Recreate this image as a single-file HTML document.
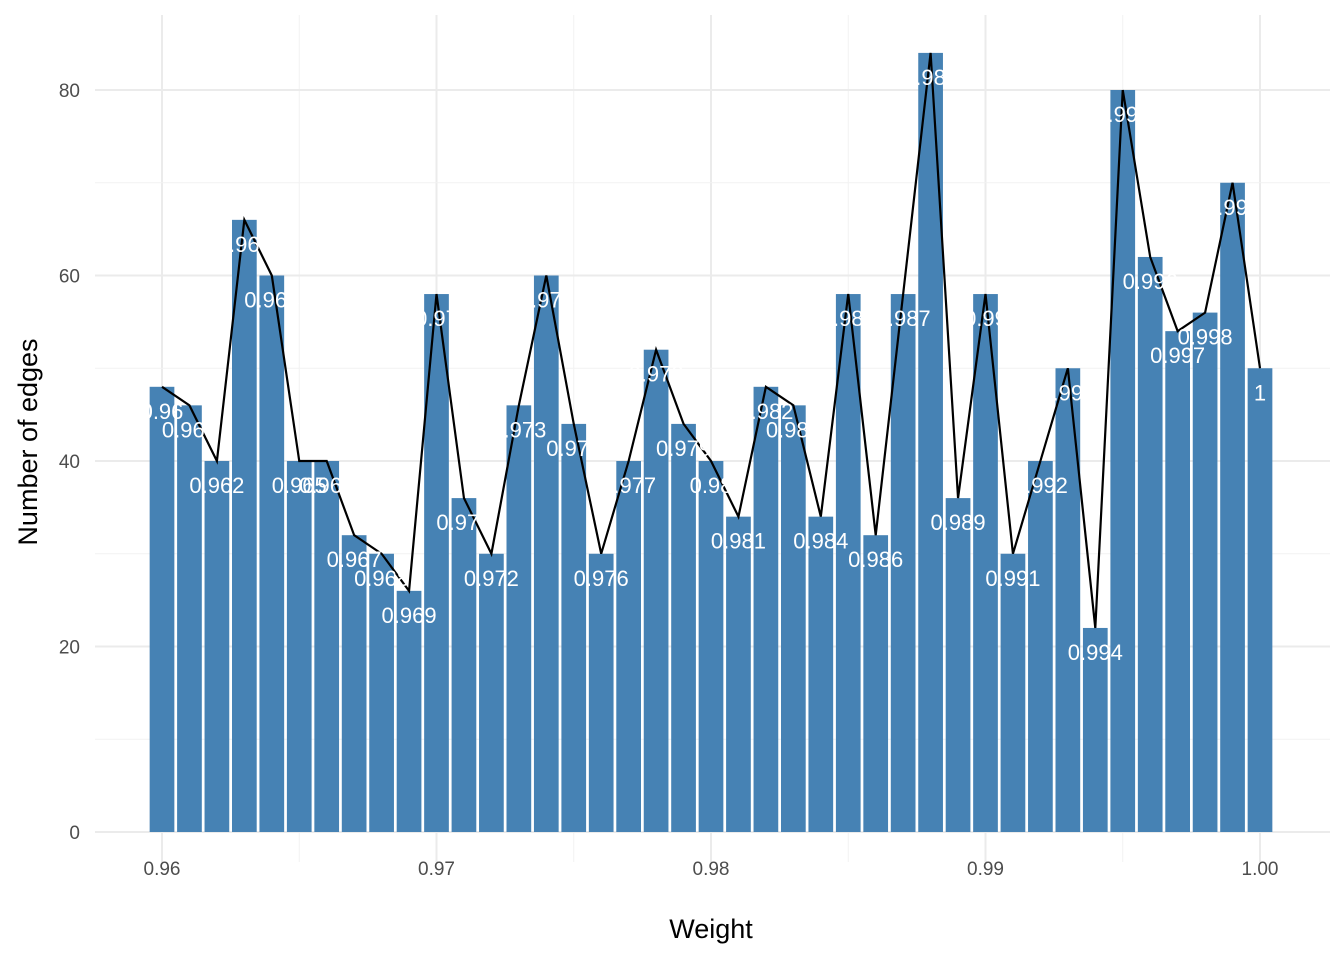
<!DOCTYPE html>
<html><head><meta charset="utf-8"><style>
body{margin:0;background:#fff}
svg{display:block;font-family:"Liberation Sans","DejaVu Sans",sans-serif}
</style></head><body>
<svg id="chart" width="1344" height="960" viewBox="0 0 1344 960" xmlns="http://www.w3.org/2000/svg">
<g id="grid"></g>
<g id="bars"></g>
<g id="line"></g>
<g id="labels"></g>
<g id="axes"></g>
<text x="711" y="938" font-size="27" text-anchor="middle" fill="#000">Weight</text>
<text transform="translate(37,442) rotate(-90)" font-size="27" text-anchor="middle" fill="#000">Number of edges</text>
</svg>
<script>
const weights=[0.960,0.961,0.962,0.963,0.964,0.965,0.966,0.967,0.968,0.969,0.970,0.971,0.972,0.973,0.974,0.975,0.976,0.977,0.978,0.979,0.980,0.981,0.982,0.983,0.984,0.985,0.986,0.987,0.988,0.989,0.990,0.991,0.992,0.993,0.994,0.995,0.996,0.997,0.998,0.999,1.000];
const counts=[48,46,40,66,60,40,40,32,30,26,58,36,30,46,60,44,30,40,52,44,40,34,48,46,34,58,32,58,84,36,58,30,40,50,22,80,62,54,56,70,50];
const xTicks=[0.96,0.97,0.98,0.99,1.00];
const xTickLabels=["0.96","0.97","0.98","0.99","1.00"];
const yTicks=[0,20,40,60,80];
const NS="http://www.w3.org/2000/svg";
const X=v=>162+(v-0.96)*27450;
const Y=v=>832-v*9.275;
const mk=(p,t,a)=>{const e=document.createElementNS(NS,t);for(const k in a)e.setAttribute(k,a[k]);p.appendChild(e);return e;};
const grid=document.getElementById('grid');
for(let i=0;i<xTicks.length;i++){
  const l=mk(grid,'line',{x1:X(xTicks[i]),x2:X(xTicks[i]),y1:15,y2:862,stroke:'#ebebeb','stroke-width':2});
  
  
  if(i<xTicks.length-1){const m=(xTicks[i]+xTicks[i+1])/2;
  const ml=mk(grid,'line',{x1:X(m),x2:X(m),y1:15,y2:862,stroke:'#f2f2f2','stroke-width':1});
  
  }
}
for(let i=0;i<yTicks.length;i++){
  const l=mk(grid,'line',{x1:95,x2:1330,y1:Y(yTicks[i]),y2:Y(yTicks[i]),stroke:'#ebebeb','stroke-width':2});
  
  
  const m=yTicks[i]+10;
  const ml=mk(grid,'line',{x1:95,x2:1330,y1:Y(m),y2:Y(m),stroke:'#f2f2f2','stroke-width':1});
  
  
}
const bars=document.getElementById('bars');
const bw=27.45*0.9;
weights.forEach((w,i)=>{
  const r=mk(bars,'rect',{x:X(w)-bw/2,y:Y(counts[i]),width:bw,height:Y(0)-Y(counts[i]),fill:'#4682b4'});
  
  
});
const pts=weights.map((w,i)=>X(w)+','+Y(counts[i])).join(' ');
const pl=mk(document.getElementById('line'),'polyline',{points:pts,fill:'none',stroke:'#000','stroke-width':2.2});


const labels=document.getElementById('labels');
weights.forEach((w,i)=>{
  const t=mk(labels,'text',{x:X(w),y:Y(counts[i])+32,'font-size':22,'text-anchor':'middle',fill:'#fff'});
  t.textContent=String(+w.toFixed(3));
  
  
});
const axes=document.getElementById('axes');
xTicks.forEach((v,i)=>{
  const t=mk(axes,'text',{x:X(v),y:875,'font-size':19,'text-anchor':'middle',fill:'#4d4d4d'});
  t.textContent=xTickLabels[i];
  
  
});
yTicks.forEach(v=>{
  const t=mk(axes,'text',{x:80,y:Y(v)+7,'font-size':19,'text-anchor':'end',fill:'#4d4d4d'});
  t.textContent=String(v);
  
  
});
</script>
</body></html>
